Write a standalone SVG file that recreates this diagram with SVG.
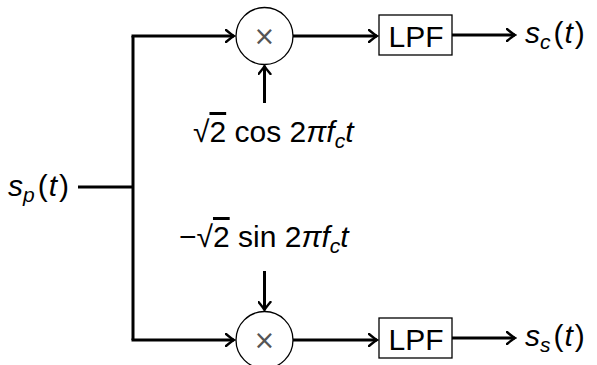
<svg xmlns="http://www.w3.org/2000/svg" width="597" height="365" viewBox="0 0 597 365">
<defs>
<marker id="arr" viewBox="-9 -7 11 14" markerWidth="11" markerHeight="14" refX="0" refY="0" orient="auto" markerUnits="userSpaceOnUse">
<path d="M-8,-6 Q-2,-1 0,0 Q-2,1 -8,6" fill="none" stroke="#000" stroke-width="2.4" stroke-linecap="round"/>
</marker>
<style>
.w{stroke:#000;stroke-width:3;fill:none}
.t{font-family:"Liberation Sans",Arial,sans-serif;font-size:30px;fill:#000}
.i{font-style:italic}
.s{font-size:21px}
.b{fill:#fff;stroke:#000;stroke-width:1.3}
.x{font-family:"DejaVu Sans",sans-serif;font-size:26px;fill:#555}
</style>
</defs>
<g id="connectors">
<path class="w" d="M78,187 H133"/>
<path class="w" d="M133,36 V340"/>
<path class="w" d="M131.5,36 H234" marker-end="url(#arr)"/>
<path class="w" d="M131.5,340 H234" marker-end="url(#arr)"/>
<path class="w" d="M293,36 H377" marker-end="url(#arr)"/>
<path class="w" d="M293,340 H377" marker-end="url(#arr)"/>
<path class="w" d="M452,35 H515" marker-end="url(#arr)"/>
<path class="w" d="M452,338 H515" marker-end="url(#arr)"/>
<path class="w" d="M264.5,103 V66" marker-end="url(#arr)"/>
<path class="w" d="M264.5,271 V310" marker-end="url(#arr)"/>
</g>
<g id="input"><text class="t" x="8" y="196"><tspan class="i">s</tspan><tspan class="i s" dy="6">p</tspan><tspan dy="-6" dx="3">(</tspan><tspan class="i" dx="1">t</tspan><tspan dx="2">)</tspan></text></g>
<g id="mult1"><circle class="b" cx="264.5" cy="36" r="28.5"/><text class="x" x="264.5" y="45" text-anchor="middle">×</text></g>
<g id="mult2"><circle class="b" cx="264.5" cy="340" r="28.5"/><text class="x" x="264.5" y="349" text-anchor="middle">×</text></g>
<g id="lpf1"><rect class="b" x="379" y="15" width="73" height="40"/><text class="t" x="416" y="47" text-anchor="middle" font-size="31">LPF</text></g>
<g id="lpf2"><rect class="b" x="379" y="318" width="73" height="40"/><text class="t" x="416" y="350" text-anchor="middle" font-size="31">LPF</text></g>
<g id="out1"><text class="t" x="525" y="43"><tspan class="i">s</tspan><tspan class="i s" dy="6">c</tspan><tspan dy="-6" dx="3">(</tspan><tspan class="i" dx="1">t</tspan><tspan dx="2">)</tspan></text></g>
<g id="out2"><text class="t" x="525" y="346"><tspan class="i">s</tspan><tspan class="i s" dy="6">s</tspan><tspan dy="-6" dx="3">(</tspan><tspan class="i" dx="1">t</tspan><tspan dx="2">)</tspan></text></g>
<g id="cosLabel"><text class="t" x="193" y="142">√<tspan text-decoration="overline">2</tspan> cos 2<tspan class="i">π</tspan><tspan class="i">f</tspan><tspan class="i s" dy="6">c</tspan><tspan class="i" dy="-6">t</tspan></text></g>
<g id="sinLabel"><text class="t" x="179" y="247">−√<tspan text-decoration="overline">2</tspan> sin 2<tspan class="i">π</tspan><tspan class="i">f</tspan><tspan class="i s" dy="6">c</tspan><tspan class="i" dy="-6">t</tspan></text></g>
</svg>
